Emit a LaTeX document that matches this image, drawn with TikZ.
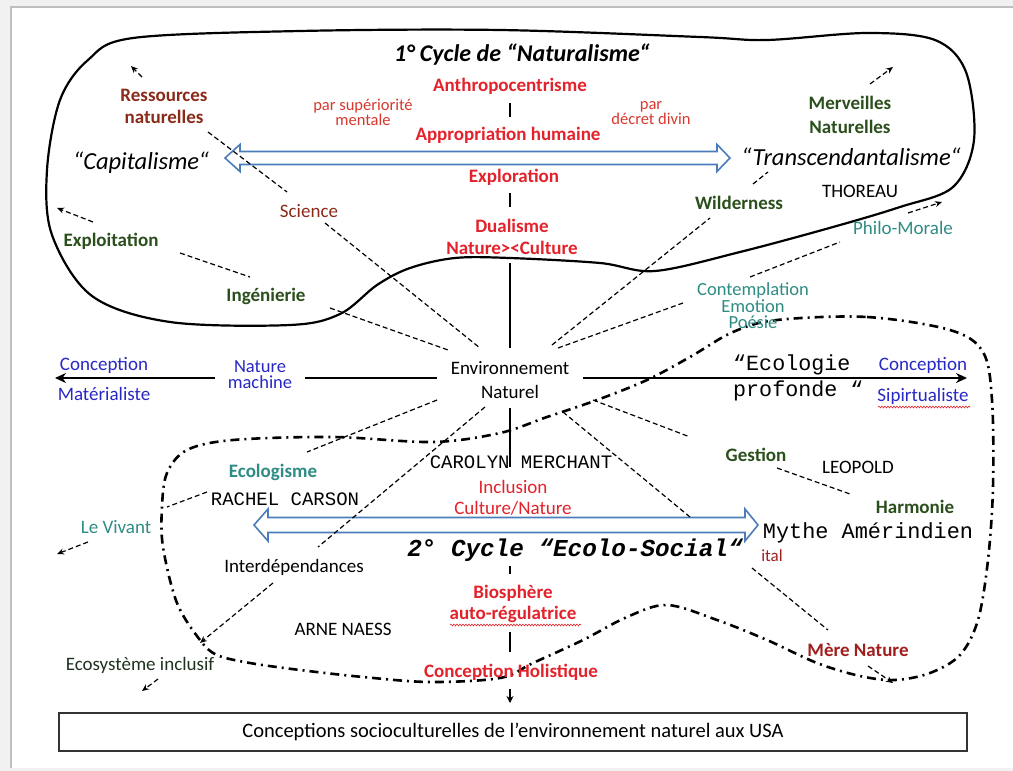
\documentclass[tikz,border=0pt]{standalone}
\usepackage{fontspec}
\setmainfont{Carlito}
\newfontfamily\monofam{Liberation Mono}
\usetikzlibrary{arrows.meta,decorations.pathmorphing}
\definecolor{cRed}{HTML}{E3222B}
\definecolor{cRedS}{HTML}{D8382E}
\definecolor{cBrown}{HTML}{8A2B1A}
\definecolor{cGreen}{HTML}{2B4F1C}
\definecolor{cTeal}{HTML}{2F8C84}
\definecolor{cBlue}{HTML}{2828C4}
\definecolor{cArrow}{HTML}{4A7DBA}
\definecolor{cMere}{HTML}{A01E1E}
\definecolor{cEco}{HTML}{1E3320}
\definecolor{pagebg}{HTML}{F1F1F1}
\begin{document}
\begin{tikzpicture}[x=1pt,y=-1pt,
  txt/.style={inner sep=0pt, align=center, font=\fontsize{19}{23}\selectfont},
  txtb/.style={txt, font=\fontsize{19}{23}\selectfont\bfseries},
  redb/.style={txtb, text=cRed},
  greenb/.style={txtb, text=cGreen},
  tealt/.style={txt, text=cTeal},
  bluet/.style={txt, text=cBlue},
  smallred/.style={txt, text=cRedS, font=\fontsize{16.5}{12.5}\selectfont},
  bigit/.style={txt, font=\fontsize{24.5}{28}\selectfont\itshape},
  monot/.style={txt, font=\monofam\fontsize{19}{23}\selectfont},
  dsh/.style={line width=1.2pt, dash pattern=on 5pt off 3pt},
  dtip/.style={dsh, -{Stealth[length=7pt,width=6pt]}},
  axis/.style={line width=2.5pt},
  axtip/.style={axis, -{Stealth[length=11pt,width=10pt]}},
  hollow/.style={draw=cArrow, line width=1.6pt, fill=white, line join=miter},
  cloudA/.style={line width=2.2pt},
  cloudB/.style={line width=2.6pt, dash pattern=on 9pt off 5pt on 2pt off 5pt},
  wavy/.style={cRed, line width=0.6pt, decorate, decoration={snake, amplitude=0.9pt, segment length=3pt}}
]
\useasboundingbox (0,0) rectangle (1013,771);
% page
\fill[pagebg] (0,0) rectangle (1013,771);
\fill[white] (11,7) rectangle (1013,768);
\draw[black!25, line width=1.2pt] (11,768) -- (11,7) -- (1013,7);

% first cycle outline
\draw[cloudA] plot[smooth cycle, tension=0.55] coordinates {
  (133,38) (300,31) (500,30) (700,37) (767,40) (867,33) (935,40) (966,72)
  (974,140) (953,187) (900,207) (833,227) (740,252) (655,271) (600,263)
  (510,258) (455,258) (410,268) (377,285) (340,314) (290,325) (170,322)
  (92,296) (52,235) (47,170) (60,100) (88,60)};

% second cycle outline
\draw[cloudB] plot[smooth cycle, tension=0.55] coordinates {
  (777,320) (867,317) (950,330) (983,352) (992,400) (993,487) (988,560)
  (978,620) (960,655) (930,673) (895,680) (860,676) (817,663) (767,640)
  (717,620) (667,605) (627,617) (583,640) (533,663) (500,678) (430,682)
  (363,677) (300,670) (250,663) (217,655) (200,640) (177,603) (163,547)
  (162,507) (167,473) (187,450) (233,440) (333,437) (433,442) (500,433)
  (547,417) (597,400) (647,380) (690,357) (733,332)};

% hollow double arrows
\draw[hollow] (225,158) -- (240,144.5) -- (240,151.5) -- (717,151.5) -- (717,144.5)
  -- (730,158) -- (717,171.5) -- (717,164.5) -- (240,164.5) -- (240,171.5) -- cycle;
\draw[hollow] (254,525) -- (268,509) -- (268,517.5) -- (745,517.5) -- (745,509)
  -- (758,525) -- (745,541) -- (745,532.5) -- (268,532.5) -- (268,541) -- cycle;

% texts of the first cycle
\node[txt, font=\fontsize{24}{28}\selectfont\bfseries\itshape] (title) at (522,55) {1° Cycle de “Naturalisme“};
\node[redb] (anthro) at (510,86) {Anthropocentrisme};
\node[smallred] (parsup) at (363,112) {par supériorité\\mentale};
\node[redb] (appro) at (508,135) {Appropriation humaine};
\node[smallred] (pardec) at (651,113) {par\\décret divin};
\node[redb] (explo) at (514,177) {Exploration};
\node[redb, font=\fontsize{19}{22}\selectfont\bfseries] (dual) at (512,237) {Dualisme\\Nature><Culture};
\node[txtb, text=cBrown, font=\fontsize{19}{22}\selectfont\bfseries] (ress) at (164,106) {Ressources\\naturelles};
\node[bigit] (capit) at (141,163) {“Capitalisme“};
\node[bigit] (transc) at (851,157) {“Transcendantalisme“};
\node[greenb, font=\fontsize{19}{24}\selectfont\bfseries] (merv) at (850,115) {Merveilles\\Naturelles};
\node[txt] (thoreau) at (860,191) {THOREAU};
\node[greenb] (wild) at (739,203) {Wilderness};
\node[tealt] (philo) at (903,228) {Philo-Morale};
\node[tealt, font=\fontsize{18.5}{16.5}\selectfont] (contemp) at (753,306) {Contemplation\\Emotion\\Poésie};
\node[txt, text=cBrown] (science) at (309,211) {Science};
\node[greenb] (exploi) at (111,241) {Exploitation};
\node[greenb] (ingen) at (266,296) {Ingénierie};

% central axis
\node[bluet, font=\fontsize{19}{30}\selectfont] (concL) at (104,379) {Conception\\Matérialiste};
\node[bluet, font=\fontsize{18.5}{16}\selectfont] (natmach) at (260,375) {Nature\\machine};
\node[txt, font=\fontsize{19}{24}\selectfont] (env) at (510,380) {Environnement\\Naturel};
\node[txt, anchor=west, align=left, font=\monofam\fontsize{21.7}{26}\selectfont] (ecoprof) at (733,378) {“Ecologie\\profonde “};
\node[bluet, font=\fontsize{19}{31}\selectfont] (concR) at (923,381) {Conception\\Sipirtualiste};

% texts of the second cycle
\node[greenb] (gestion) at (756,455) {Gestion};
\node[txt] (leopold) at (858,467) {LEOPOLD};
\node[greenb] (harmonie) at (915,507) {Harmonie};
\node[monot, font=\monofam\fontsize{21.9}{26}\selectfont] (mythe) at (868,533) {Mythe Amérindien};
\node[txt, text=cMere, font=\fontsize{17}{20}\selectfont] (ital) at (772,556) {ital};
\node[txtb, text=cMere] (mere) at (858,650) {Mère Nature};
\node[txtb, text=cTeal] (ecologisme) at (273,472) {Ecologisme};
\node[monot] (rachel) at (285,499) {RACHEL CARSON};
\node[tealt] (vivant) at (116,527) {Le Vivant};
\node[txt] (interdep) at (294,567) {Interdépendances};
\node[txt, text=cEco] (ecosys) at (140,665) {Ecosystème inclusif};
\node[txt] (arne) at (343,629) {ARNE NAESS};
\node[monot] (carolyn) at (521,462) {CAROLYN MERCHANT};
\node[txt, text=cRed, font=\fontsize{19}{21}\selectfont] (inclusion) at (513,498) {Inclusion\\Culture/Nature};
\node[txt, font=\monofam\fontsize{24.3}{28}\selectfont\bfseries\itshape] (cycle2) at (575,550) {2° Cycle “Ecolo-Social“};
\node[redb, font=\fontsize{19}{21}\selectfont\bfseries] (bio) at (513,604) {Biosphère\\auto-régulatrice};
\node[redb] (holist) at (511,672) {Conception Holistique};

% spelling marks
\draw[wavy] (450,625) -- (581,625);
\draw[wavy] (878,407) -- (970,407);

% bottom caption
\node[draw=black!80, line width=1.8pt, minimum width=908pt, minimum height=38pt, inner sep=0pt,
      font=\fontsize{20.5}{24}\selectfont] (caption) at (513,732) {Conceptions socioculturelles de l’environnement naturel aux USA};

% vertical axis
\coordinate (v1a) at (510,103); \coordinate (v1b) at (510,117);
\coordinate (v2a) at (510,193); \coordinate (v2b) at (510,207);
\coordinate (v3a) at (510,263); \coordinate (v3b) at (510,348);
\coordinate (v4a) at (510,408); \coordinate (v4b) at (510,467);
\coordinate (v5a) at (510,566); \coordinate (v5b) at (510,574);
\coordinate (v6a) at (510,632); \coordinate (v6b) at (510,652);
\coordinate (v7a) at (510,689); \coordinate (v7b) at (510,703);
\draw[axis] (v1a) -- (v1b);
\draw[axis] (v2a) -- (v2b);
\draw[axis] (v3a) -- (v3b);
\draw[axis] (v4a) -- (v4b);
\draw[axis] (v5a) -- (v5b);
\draw[axis] (v6a) -- (v6b);
\draw[line width=1.5pt, -{Stealth[length=7pt,width=7pt]}] (v7a) -- (v7b);

% horizontal axis
\coordinate (hLa) at (437,378); \coordinate (hLb) at (305,378);
\coordinate (hLc) at (215,378); \coordinate (hLd) at (55,378);
\coordinate (hRa) at (583,378); \coordinate (hRb) at (967,378);
\draw[axis] (hLa) -- (hLb);
\draw[axtip] (hLc) -- (hLd);
\draw[axtip] (hRa) -- (hRb);

% dashed connectors of the first cycle
\coordinate (ressS) at (208,132); \coordinate (sciN) at (287,192);
\coordinate (sciS) at (325,223); \coordinate (envSci) at (480,348);
\draw[dsh] (ressS) -- (sciN);
\draw[dsh] (sciS) -- (envSci);
\coordinate (ressT) at (142,77); \coordinate (ressU) at (131,66);
\draw[dtip] (ressT) -- (ressU);
\coordinate (expT) at (93,222); \coordinate (expU) at (57,208);
\draw[dtip] (expT) -- (expU);
\coordinate (expE) at (180,253); \coordinate (ingW) at (250,277);
\draw[dsh] (expE) -- (ingW);
\coordinate (ingS) at (330,308); \coordinate (envIng) at (448,350);
\draw[dsh] (ingS) -- (envIng);
\coordinate (envWild) at (552,345); \coordinate (wildS) at (710,218);
\draw[dsh] (envWild) -- (wildS);
\coordinate (wildN) at (753,184); \coordinate (transS) at (768,172);
\draw[dsh] (wildN) -- (transS);
\coordinate (envCon) at (558,348); \coordinate (conW) at (683,303);
\draw[dsh] (envCon) -- (conW);
\coordinate (conN) at (750,277); \coordinate (philoW) at (840,242);
\draw[dsh] (conN) -- (philoW);
\coordinate (philoT) at (908,213); \coordinate (philoU) at (942,202);
\draw[dtip] (philoT) -- (philoU);
\coordinate (mervT) at (870,84); \coordinate (mervU) at (893,67);
\draw[dtip] (mervT) -- (mervU);

% dashed connectors of the second cycle
\coordinate (envGes) at (593,400); \coordinate (gesW) at (690,437);
\draw[dsh] (envGes) -- (gesW);
\coordinate (gesE) at (777,468); \coordinate (harW) at (850,494);
\draw[dsh] (gesE) -- (harW);
\coordinate (envMy) at (563,412); \coordinate (arrMy) at (690,517);
\draw[dsh] (envMy) -- (arrMy);
\coordinate (italS) at (752,568); \coordinate (mereN) at (828,630);
\draw[dsh] (italS) -- (mereN);
\coordinate (mereT) at (868,666); \coordinate (mereU) at (893,683);
\draw[dtip] (mereT) -- (mereU);
\coordinate (envEco) at (437,400); \coordinate (ecoE) at (307,452);
\draw[dsh] (envEco) -- (ecoE);
\coordinate (rachW) at (207,492); \coordinate (cycW) at (167,507);
\draw[dsh] (rachW) -- (cycW);
\coordinate (vivT) at (88,542); \coordinate (vivU) at (57,554);
\draw[dtip] (vivT) -- (vivU);
\coordinate (envInt) at (485,407); \coordinate (intN) at (318,547);
\draw[dsh] (envInt) -- (intN);
\coordinate (intS) at (273,583); \coordinate (ecoN) at (200,643);
\draw[dtip] (intS) -- (ecoN);
\coordinate (ecoT) at (158,679); \coordinate (ecoU) at (142,691);
\draw[dtip] (ecoT) -- (ecoU);
\end{tikzpicture}
\end{document}
